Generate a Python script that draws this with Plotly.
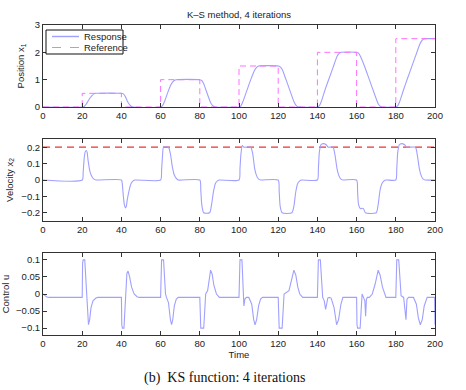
import plotly.graph_objects as go

# ---------------- data ----------------
ref_t = [0, 20, 40, 60, 80, 100, 120, 140, 160, 180, 200]
ref_x = [0, 0.5, 0, 1.0, 0, 1.5, 0, 2.0, 0, 2.5, 2.5]

pos_t = [0, 20, 21, 22, 23, 24, 25, 26, 27, 40, 41, 42, 43, 44, 45, 46,
         60, 61, 62, 63, 64, 65, 66, 67, 68, 80, 81, 82, 83, 84, 85, 86, 87, 88,
         100, 101, 102, 104, 106, 108, 109, 110, 120, 121, 122, 124, 126, 128, 129, 130, 131,
         140, 141, 142, 144, 146, 148, 150, 151, 152, 160, 161, 162, 164, 166, 168, 170, 171, 172, 173,
         180, 181, 182, 184, 186, 188, 190, 192, 193, 194, 195, 200]
pos_x = [0, 0, 0.02, 0.1, 0.22, 0.33, 0.42, 0.48, 0.5, 0.5, 0.48, 0.38, 0.22, 0.1, 0.03, 0,
         0, 0.05, 0.2, 0.4, 0.6, 0.78, 0.9, 0.97, 1.0, 1.0, 0.97, 0.85, 0.65, 0.45, 0.25, 0.1, 0.03, 0,
         0, 0.04, 0.2, 0.6, 1.0, 1.35, 1.45, 1.5, 1.5, 1.47, 1.38, 1.0, 0.6, 0.2, 0.07, 0.01, 0,
         0, 0.05, 0.2, 0.65, 1.05, 1.45, 1.85, 1.95, 2.0, 2.0, 1.97, 1.85, 1.5, 1.1, 0.7, 0.3, 0.12, 0.03, 0,
         0, 0.05, 0.2, 0.64, 1.05, 1.45, 1.85, 2.25, 2.4, 2.48, 2.5, 2.5]

vel_limit = 0.2
vel_t = [0, 20, 20.5, 21, 21.5, 22, 22.5, 23, 24, 25, 26, 27,
         40, 40.5, 41, 41.5, 42, 42.5, 43, 44, 45, 46, 47,
         60, 60.5, 61, 61.5, 64, 65, 66, 67, 68, 69,
         80, 80.5, 81, 82, 85, 86, 87, 88, 89, 90,
         100, 100.5, 101, 101.7, 102.5, 106, 107, 108, 109, 110, 111,
         120, 120.5, 121, 122, 127, 128, 129, 130, 131, 132,
         140, 140.5, 141, 141.8, 143, 144.5, 145.5, 148, 149, 150, 151, 152, 153,
         160, 160.5, 161, 162, 163, 163.5, 164.5, 170, 171, 172, 173, 174, 175,
         180, 180.5, 181, 181.8, 183, 184.5, 185.5, 190, 191, 192, 193, 194, 195, 200]
vel_v = [0, 0, 0.05, 0.13, 0.17, 0.18, 0.17, 0.12, 0.05, 0.02, 0.005, 0,
         0, -0.03, -0.1, -0.15, -0.17, -0.16, -0.12, -0.06, -0.02, -0.005, 0,
         0, 0.06, 0.15, 0.2, 0.2, 0.16, 0.08, 0.03, 0.01, 0,
         0, -0.06, -0.15, -0.2, -0.2, -0.15, -0.07, -0.02, -0.005, 0,
         0, 0.07, 0.16, 0.21, 0.2, 0.2, 0.16, 0.07, 0.025, 0.005, 0,
         0, -0.07, -0.16, -0.2, -0.2, -0.16, -0.07, -0.02, -0.005, 0,
         0, 0.07, 0.17, 0.215, 0.222, 0.215, 0.2, 0.2, 0.15, 0.07, 0.025, 0.005, 0,
         0, -0.07, -0.15, -0.175, -0.172, -0.175, -0.2, -0.2, -0.15, -0.06, -0.02, -0.005, 0,
         0, 0.07, 0.17, 0.215, 0.222, 0.215, 0.2, 0.2, 0.15, 0.07, 0.025, 0.005, 0, 0]

u_t = [0, 1, 2, 3, 20, 20.2, 20.5, 21.3, 21.7, 22.2, 22.7, 23.2, 23.8, 24.5, 25.5, 27, 28,
       40, 40.2, 40.5, 41.3, 41.7, 42.2, 42.8, 43.4, 44.2, 45.2, 46.5, 48, 49,
       60, 60.2, 60.5, 61.5, 62, 62.5, 63, 64, 65, 65.6, 66.2, 67, 68, 69,
       80, 80.2, 80.5, 82, 82.5, 83, 84, 84.7, 85.5, 86.3, 87.2, 88.5, 90,
       100, 100.2, 100.5, 101.5, 102, 102.5, 103, 103.8, 105, 106.5, 107.5, 108.2, 109, 110, 111, 112,
       120, 120.2, 120.5, 122, 122.5, 123, 125.5, 126.5, 128, 129, 130, 131, 132.5,
       140, 140.2, 140.5, 141.5, 142, 142.7, 143.5, 144.2, 144.7, 145.3, 146, 147, 148.5, 149.8, 150.8, 152, 153,
       160, 160.2, 160.5, 161.8, 162.3, 162.8, 163.5, 164.2, 164.6, 165, 165.5, 166.5, 168, 169.5, 171, 172, 173.2, 175,
       180, 180.2, 180.5, 181.5, 182, 182.7, 184, 184.7, 185.2, 185.7, 186.5, 189, 190.5, 191.5, 192.5, 193.5, 194.5, 196, 199.8, 200]
u_v = [0, -0.005, -0.009, -0.01, -0.01, 0.09, 0.1, 0.1, 0.06, -0.02, -0.075, -0.09, -0.075, -0.04, -0.02, -0.012, -0.01,
       -0.01, -0.09, -0.1, -0.1, -0.06, 0.02, 0.06, 0.067, 0.05, 0.02, 0.0, -0.008, -0.01,
       -0.01, 0.09, 0.1, 0.1, 0.05, 0.0, -0.01, -0.025, -0.075, -0.09, -0.075, -0.035, -0.015, -0.01,
       -0.01, -0.09, -0.1, -0.1, -0.05, 0.0, 0.01, 0.04, 0.07, 0.058, 0.025, 0.0, -0.01,
       -0.01, 0.09, 0.1, 0.1, 0.04, -0.035, -0.015, -0.01, -0.01, -0.03, -0.075, -0.09, -0.075, -0.035, -0.015, -0.01,
       -0.01, -0.09, -0.1, -0.1, -0.05, 0.0, 0.01, 0.035, 0.07, 0.055, 0.02, 0.0, -0.01,
       -0.01, 0.09, 0.1, 0.1, 0.04, -0.01, -0.02, -0.045, -0.03, -0.012, -0.01, -0.012, -0.04, -0.09, -0.075, -0.03, -0.01,
       -0.01, -0.09, -0.1, -0.1, -0.05, 0.0, -0.01, -0.02, -0.065, -0.015, -0.01, -0.01, 0.0, 0.03, 0.07, 0.055, 0.02, -0.01,
       -0.01, 0.09, 0.1, 0.1, 0.04, -0.005, -0.01, -0.04, -0.075, -0.015, -0.01, -0.01, -0.03, -0.07, -0.09, -0.075, -0.035, -0.01, -0.01, -0.09]

x_ticks = [0, 20, 40, 60, 80, 100, 120, 140, 160, 180, 200]
y1_ticks = [0, 1, 2, 3]
y2_ticks = [-0.2, -0.1, 0, 0.1, 0.2]
y2_labels = ["\u22120.2", "\u22120.1", "0", "0.1", "0.2"]
y3_ticks = [-0.1, -0.05, 0, 0.05, 0.1]
y3_labels = ["\u22120.1", "\u22120.05", "0", "0.05", "0.1"]
legend_names = ["Response", "Reference"]

# ---------------- figure ----------------
W, H = 466, 390
BLUE = "#a0a0ff"
MAG = "#ff70ff"
RED = "#ee3333"
FONT = "Liberation Sans, Arial, sans-serif"
FS = 9.5

fig = go.Figure()
fig.add_trace(go.Scatter(x=pos_t, y=pos_x, mode="lines", name=legend_names[0], showlegend=False,
                         line=dict(color=BLUE, width=1.1, shape="spline", smoothing=0.6),
                         xaxis="x", yaxis="y"))
fig.add_trace(go.Scatter(x=ref_t, y=ref_x, mode="lines", name=legend_names[1], showlegend=False,
                         line=dict(color=MAG, width=1, dash="6px,4px", shape="hv"),
                         xaxis="x", yaxis="y"))
fig.add_trace(go.Scatter(x=[0, 200], y=[vel_limit, vel_limit], mode="lines", showlegend=False,
                         line=dict(color=RED, width=1.2, dash="7px,5px"), xaxis="x2", yaxis="y2"))
fig.add_trace(go.Scatter(x=vel_t, y=vel_v, mode="lines", showlegend=False,
                         line=dict(color=BLUE, width=1.1, shape="spline", smoothing=0.6),
                         xaxis="x2", yaxis="y2"))
fig.add_trace(go.Scatter(x=u_t, y=u_v, mode="lines", showlegend=False,
                         line=dict(color=BLUE, width=1.1, shape="linear"),
                         xaxis="x3", yaxis="y3"))

xl, xr = 43 / W, 435 / W
def ydom(top, bot):
    return [1 - bot / H, 1 - top / H]

axis_common = dict(showgrid=False, zeroline=False, showline=True, linecolor="#333333", linewidth=1,
                   mirror="ticks", ticks="inside", ticklen=4, tickcolor="#333333",
                   tickfont=dict(family=FONT, size=FS, color="#222222"))

xcommon = dict(axis_common, range=[0, 200], tickmode="array", tickvals=x_ticks, domain=[xl, xr])

fig.update_layout(
    width=W, height=H, margin=dict(l=0, r=0, t=0, b=0, autoexpand=False),
    paper_bgcolor="white", plot_bgcolor="white",
    font=dict(family=FONT, size=FS, color="#222222"),
    xaxis=dict(xcommon, anchor="y"),
    yaxis=dict(axis_common, range=[0, 3], tickmode="array", tickvals=y1_ticks, domain=ydom(25, 107),
               anchor="x", title=dict(text="Position x<sub>1</sub>", font=dict(size=FS), standoff=8)),
    xaxis2=dict(xcommon, anchor="y2"),
    yaxis2=dict(axis_common, range=[-0.25, 0.25], tickmode="array", tickvals=y2_ticks, ticktext=y2_labels,
                domain=ydom(139, 221), anchor="x2",
                title=dict(text="Velocity x<sub>2</sub>", font=dict(size=FS), standoff=6)),
    xaxis3=dict(xcommon, anchor="y3", title=dict(text="Time", font=dict(size=FS), standoff=2)),
    yaxis3=dict(axis_common, range=[-0.12, 0.12], tickmode="array", tickvals=y3_ticks, ticktext=y3_labels,
                domain=ydom(253, 335), anchor="x3",
                title=dict(text="Control u", font=dict(size=FS), standoff=6)),
    showlegend=False,
)

# compact MATLAB-style legend box (decoration, in paper pixels)
def px(x):
    return x / W
def py(y):
    return 1 - y / H

fig.add_shape(type="rect", xref="paper", yref="paper", x0=px(46), x1=px(123), y0=py(54), y1=py(30),
              line=dict(color="#111111", width=1), fillcolor="white", layer="above")
fig.add_shape(type="line", xref="paper", yref="paper", x0=px(52), x1=px(79), y0=py(36.5), y1=py(36.5),
              line=dict(color=BLUE, width=1.4), layer="above")
fig.add_shape(type="line", xref="paper", yref="paper", x0=px(52), x1=px(79), y0=py(47.5), y1=py(47.5),
              line=dict(color=MAG, width=1.2, dash="dash"), layer="above")
for i, name in enumerate(legend_names):
    fig.add_annotation(text=name, xref="paper", yref="paper", x=px(82), y=py(36.5 + 11 * i),
                       showarrow=False, xanchor="left", yanchor="middle",
                       font=dict(family=FONT, size=FS, color="#222222"))

fig.add_annotation(text="K\u2013S method, 4 iterations", xref="paper", yref="paper",
                   x=239 / W, y=1 - 15 / H, showarrow=False, xanchor="center", yanchor="middle",
                   font=dict(family=FONT, size=FS, color="#222222"))
fig.add_annotation(text="(b)  KS function: 4 iterations", xref="paper", yref="paper",
                   x=224 / W, y=1 - 378 / H, showarrow=False, xanchor="center", yanchor="middle",
                   font=dict(family="Liberation Serif, Times New Roman, serif", size=14, color="#111111"))

fig.write_html("out.html", config={"displayModeBar": False},
               post_script="document.body.style.margin='0';document.body.style.overflow='hidden';")
